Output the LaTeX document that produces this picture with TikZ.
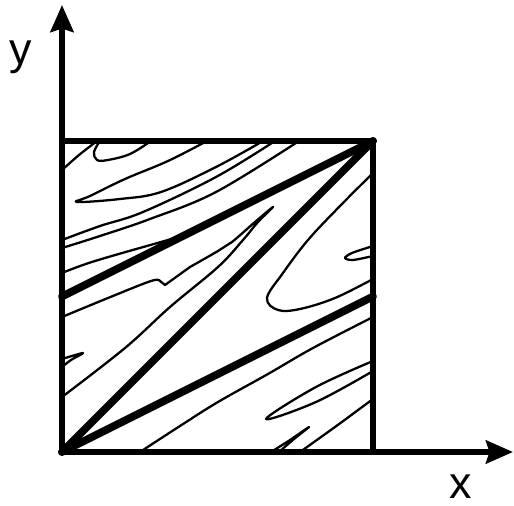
\documentclass[tikz,border=0pt]{standalone}
\usepackage{fontspec}
\setmainfont{Liberation Sans}
\usetikzlibrary{arrows.meta}

\begin{document}
\begin{tikzpicture}[x=0.02cm, y=-0.02cm,
    axis/.style={line width=3.2pt, -{Stealth[length=0.54cm, width=0.46cm, inset=0.07cm]}},
    frame/.style={line width=3.2pt, line join=miter},
    graph/.style={line width=4.4pt, line cap=round},
    level/.style={line width=1.3pt, line cap=round, line join=round},
    lbl/.style={font=\fontsize{25.5}{30}\selectfont, inner sep=0pt, anchor=base},
  ]
  \useasboundingbox (0,0) rectangle (514,506);

  % corners of the square
  \coordinate (O) at (62,452);
  \coordinate (R) at (373,452);
  \coordinate (Q) at (373,141);
  \coordinate (P) at (62,141);
  \coordinate (Pm) at (62,296.5);
  \coordinate (Qm) at (373,296.5);
  \coordinate (xend) at (513,452);
  \coordinate (yend) at (62,5);

  % level curves, upper left part
  \draw[level] plot[smooth] coordinates {(62,170) (79,155) (97,141)};
  \draw[level] plot[smooth, tension=0.6] coordinates
    {(100,141) (94,152) (97,160) (108,160) (130,154) (151,141)};
  \draw[level] plot[smooth, tension=0.6] coordinates
    {(207,141) (168,161) (125,179) (90,196) (77,202) (120,199) (161,192) (216,167) (263,141)};
  \draw[level] plot[smooth, tension=0.6] coordinates
    {(62,240) (100,226) (143,212) (216,177) (275,141)};
  \draw[level] plot[smooth, tension=0.6] coordinates
    {(62,248) (100,236) (150,219) (216,192) (299,141)};
  \draw[level] plot[smooth, tension=0.6] coordinates
    {(62,273) (95,261) (168,240) (188,234)};

  % middle band
  \draw[level] plot[smooth, tension=0.6] coordinates
      {(62,317) (108,298) (151,281) (160,281)}
    -- (165,285)
    -- plot[smooth, tension=0.6] coordinates
      {(190,267) (218,251) (232,242) (255,222) (273,207) (258,222) (243,240)
       (218,267) (170,307) (125,348) (62,397)};
  \draw[level] plot[smooth, tension=0.5] coordinates
    {(62,359) (83,353) (71,360) (62,367)};

  % band below the diagonal
  \draw[level] plot[smooth, tension=0.6] coordinates
    {(373,173) (340,206) (308,240) (283,273) (267,298) (278,310) (300,309) (335,298) (373,279)};
  \draw[level] plot[smooth, tension=0.5] coordinates
    {(373,246) (352,253) (345,258) (353,260) (373,256)};

  % lower right part
  \draw[level] plot[smooth, tension=0.6] coordinates
    {(140,452) (180,426) (218,402) (268,374) (313,348) (373,317)};
  \draw[level] plot[smooth, tension=0.6] coordinates
    {(373,361) (316,387) (266,419) (316,402) (373,371)};
  \draw[level] plot[smooth] coordinates {(300,452) (335,427) (373,399)};
  \draw[level] plot[smooth, tension=0.5] coordinates
    {(271,452) (290,440) (309,427) (294,439) (279,452)};

  % graph of the map
  \draw[graph] (O) -- (Q);
  \draw[graph] (Pm) -- (Q);
  \draw[graph] (O) -- (Qm);

  % frame and axes
  \draw[frame] (P) -- (Q) -- (R);
  \draw[axis] (O) -- (xend);
  \draw[axis] (O) -- (yend);

  \node[lbl] (ylab) at (21,65) {y};
  \node[lbl] (xlab) at (461,499) {x};
\end{tikzpicture}
\end{document}
